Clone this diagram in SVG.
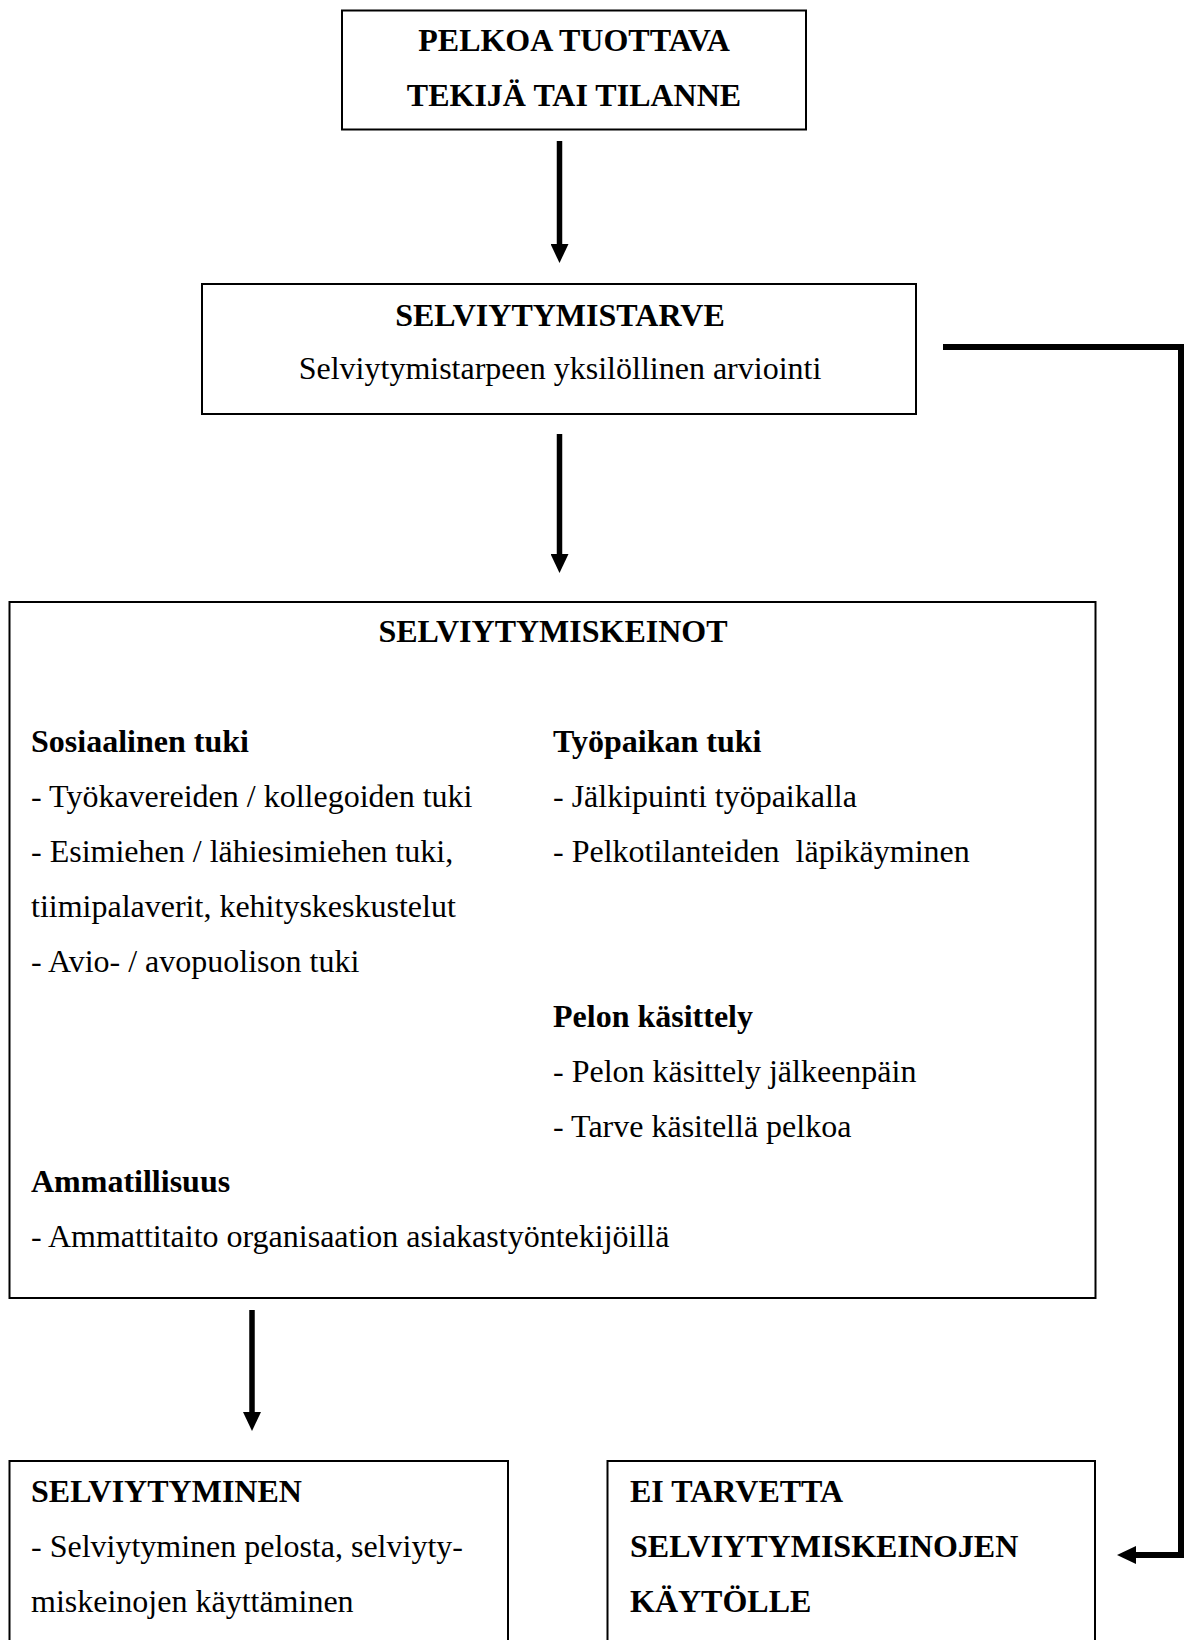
<svg xmlns="http://www.w3.org/2000/svg" width="1189" height="1640" viewBox="0 0 1189 1640">
<style>
.box{fill:#fff;stroke:#000;stroke-width:2}
.t{font-family:"Liberation Serif","Times New Roman",serif;font-size:32px;fill:#000}
.b{font-weight:bold}
.c{text-anchor:middle}
.conn{fill:none;stroke:#000;stroke-width:5.5}
.fb{fill:none;stroke:#000;stroke-width:6;stroke-linejoin:miter}
</style>
<defs>
<marker id="ah" markerUnits="userSpaceOnUse" markerWidth="19" markerHeight="18" viewBox="0 0 19 18" refX="0" refY="9" orient="auto">
<path d="M0,0 L19,9 L0,18 z" fill="#000"/>
</marker>
</defs>
<g id="n1">
<rect class="box" x="342" y="10.5" width="464" height="119"/>
<text class="t b c" x="574" y="51">PELKOA TUOTTAVA</text>
<text class="t b c" x="574" y="105.5">TEKIJÄ TAI TILANNE</text>
</g>
<g id="n2">
<rect class="box" x="202" y="284" width="714" height="130"/>
<text class="t b c" x="560" y="326">SELVIYTYMISTARVE</text>
<text class="t c" x="560" y="378.5">Selviytymistarpeen yksilöllinen arviointi</text>
</g>
<g id="n3">
<rect class="box" x="9.5" y="602" width="1086" height="696"/>
<text class="t b c" x="553" y="642">SELVIYTYMISKEINOT</text>
<text class="t b" x="31" y="752">Sosiaalinen tuki</text>
<text class="t" x="31" y="807">- Työkavereiden / kollegoiden tuki</text>
<text class="t" x="31" y="862">- Esimiehen / lähiesimiehen tuki,</text>
<text class="t" x="31" y="917">tiimipalaverit, kehityskeskustelut</text>
<text class="t" x="31" y="972">- Avio- / avopuolison tuki</text>
<text class="t b" x="553" y="752">Työpaikan tuki</text>
<text class="t" x="553" y="807">- Jälkipuinti työpaikalla</text>
<text class="t" x="553" y="862" xml:space="preserve">- Pelkotilanteiden  läpikäyminen</text>
<text class="t b" x="553" y="1027">Pelon käsittely</text>
<text class="t" x="553" y="1082">- Pelon käsittely jälkeenpäin</text>
<text class="t" x="553" y="1137">- Tarve käsitellä pelkoa</text>
<text class="t b" x="31" y="1192">Ammatillisuus</text>
<text class="t" x="31" y="1247">- Ammattitaito organisaation asiakastyöntekijöillä</text>
</g>
<g id="n4">
<rect class="box" x="9.5" y="1461" width="498.5" height="220"/>
<text class="t b" x="31" y="1501.5">SELVIYTYMINEN</text>
<text class="t" x="31" y="1556.5">- Selviytyminen pelosta, selviyty-</text>
<text class="t" x="31" y="1611.5">miskeinojen käyttäminen</text>
</g>
<g id="n5">
<rect class="box" x="607.5" y="1461" width="487.5" height="220"/>
<text class="t b" x="630" y="1501.5">EI TARVETTA</text>
<text class="t b" x="630" y="1556.5">SELVIYTYMISKEINOJEN</text>
<text class="t b" x="630" y="1611.5">KÄYTÖLLE</text>
</g>
<g id="connectors">
<line class="conn" x1="559.5" y1="141" x2="559.5" y2="244" marker-end="url(#ah)"/>
<line class="conn" x1="559.5" y1="434" x2="559.5" y2="554" marker-end="url(#ah)"/>
<line class="conn" x1="252" y1="1310" x2="252" y2="1412" marker-end="url(#ah)"/>
<path class="fb" d="M943,347 H1181 V1555 H1136" marker-end="url(#ah)"/>
</g>
</svg>
